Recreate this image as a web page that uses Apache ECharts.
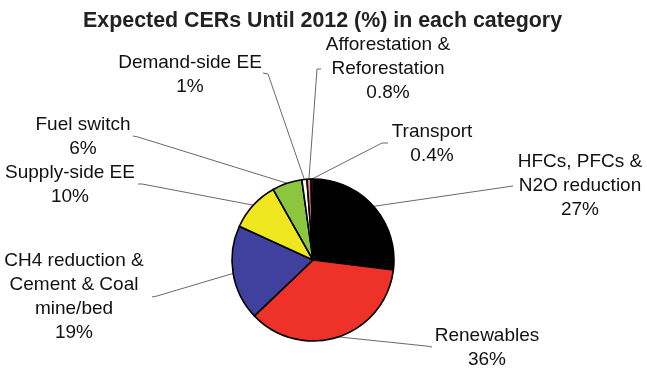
<!DOCTYPE html>
<html>
<head>
<meta charset="utf-8">
<style>
  html, body { margin: 0; padding: 0; background: #fff; }
  #chart { width: 647px; height: 370px; }
</style>
<script src="https://cdn.jsdelivr.net/npm/echarts@6/dist/echarts.min.js"></script>
</head>
<body>
<div id="chart"></div>
<script>
// Share of expected CERs until 2012, by project category (clockwise from 12 o'clock)
const categories = [
  'HFCs, PFCs &\nN2O reduction',
  'Renewables',
  'CH4 reduction &\nCement & Coal\nmine/bed',
  'Supply-side EE',
  'Fuel switch',
  'Demand-side EE',
  'Afforestation &\nReforestation',
  'Transport'
];
const shares = [27, 36, 19, 10, 6, 1, 0.8, 0.4];
const sliceColors = ['#000000', '#EE3129', '#40409E', '#EEE61E', '#8CC63F', '#FFFFFF', '#F08080', '#2F6FC8'];

// Label block centres and the outer end of each leader line (elbow, tip)
const labelSpots = [
  [580, 186], [487, 347.5], [74, 297], [70, 184.5],
  [83, 137], [190, 75], [388, 68.5], [432, 143.5]
];
const leaderTips = [
  [[506, 187], [513, 186]],
  [[426, 346], [432, 347]],
  [[157, 296], [152, 297]],
  [[142, 184], [138, 184]],
  [[138, 137], [133, 136]],
  [[268, 74], [263, 73]],
  [[317, 69], [321, 69]],
  [[382, 143], [388, 143]]
];

const chart = echarts.init(document.getElementById('chart'), null, { renderer: 'canvas' });

const data = categories.map((name, i) => ({
  name: name,
  value: shares[i],
  itemStyle: { color: sliceColors[i] }
}));

chart.setOption({
  animation: false,
  backgroundColor: '#ffffff',
  title: {
    text: 'Expected CERs Until 2012 (%) in each category',
    left: 78,
    top: 6,
    textStyle: {
      fontFamily: 'Arial, "Liberation Sans", sans-serif',
      fontWeight: 'bold',
      fontSize: 21.4,
      color: '#222222'
    }
  },
  series: [{
    type: 'pie',
    center: [313, 260],
    radius: 81,
    startAngle: 90,
    clockwise: true,
    avoidLabelOverlap: false,
    minShowLabelAngle: 0,
    itemStyle: { borderColor: '#000000', borderWidth: 1.6 },
    label: {
      show: true,
      position: 'outside',
      formatter: p => p.name + '\n' + p.value + '%',
      fontFamily: 'Arial, "Liberation Sans", sans-serif',
      fontSize: 19,
      lineHeight: 24,
      color: '#111111',
      align: 'center'
    },
    labelLine: {
      show: true,
      length: 10,
      length2: 10,
      smooth: false,
      lineStyle: { color: '#6a6a6a', width: 1 }
    },
    labelLayout: function (params) {
      const i = params.dataIndex;
      const edge = params.labelLinePoints ? params.labelLinePoints[0] : leaderTips[i][0];
      return {
        x: labelSpots[i][0],
        y: labelSpots[i][1],
        align: 'center',
        verticalAlign: 'middle',
        labelLinePoints: [edge, leaderTips[i][0], leaderTips[i][1]]
      };
    },
    emphasis: { disabled: true },
    data: data
  }]
});
</script>
</body>
</html>
